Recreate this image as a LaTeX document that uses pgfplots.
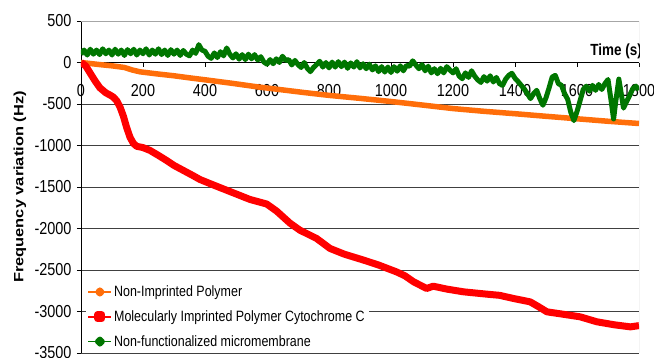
\documentclass[border=0pt]{standalone}
\usepackage{graphicx}
\usepackage{pgfplots}
\pgfplotsset{compat=1.18}
\usepackage{fontspec}
\setmainfont{Liberation Sans}
\definecolor{cOrange}{RGB}{255,110,10}
\definecolor{cRed}{RGB}{255,0,0}
\definecolor{cGreen}{RGB}{0,118,0}
\newcommand{\vs}[1]{\scalebox{1}[1.2]{#1}}
\pgfplotsset{
  legO/.style={legend image code/.code={\draw[##1, line width=1.5bp] (0bp,0bp) -- (23bp,0bp); \fill[##1] (11.5bp,0bp) circle (1.8bp);}},
  legR/.style={legend image code/.code={\draw[##1, line width=1.5bp] (0bp,0bp) -- (23bp,0bp); \fill[##1] (9.5bp,-2bp) rectangle (13.5bp,2bp);}},
  legG/.style={legend image code/.code={\draw[##1, line width=1.5bp] (0bp,0bp) -- (23bp,0bp); \fill[##1] (11.5bp,-2.5bp) -- (14bp,0bp) -- (11.5bp,2.5bp) -- (9bp,0bp) -- cycle;}},
}
\begin{document}
\begin{tikzpicture}
\useasboundingbox (-81bp,-5bp) rectangle (573bp,353bp);
\begin{axis}[
  at={(0,0)}, anchor=south west,
  scale only axis, width=558bp, height=332bp,
  xmin=0, xmax=1800, ymin=-3500, ymax=500,
  axis x line=middle, axis y line=left,
  axis line style={-, black, line width=0.6bp},
  hide obscured x ticks=false, hide obscured y ticks=false,
  xtick={0,200,...,1800}, ytick={-3500,-3000,...,500},
  tick align=outside, major tick length=4bp,
  tick style={black, line width=0.6bp},
  ymajorgrids, major grid style={black!75, line width=0.6bp},
  /pgf/number format/assume math mode=true,
  /pgf/number format/1000 sep={},
  xticklabel={\vs{\pgfmathprintnumber{\tick}}},
  yticklabel={\vs{\pgfmathprintnumber{\tick}}},
  ticklabel style={font=\fontsize{14.5}{16}\selectfont},
  xticklabel style={yshift=-14bp},
  yticklabel style={xshift=-2bp},
  every axis y label/.style={at={(axis description cs:0,0.5)}, xshift=-61bp, rotate=90, anchor=center, font=\bfseries\fontsize{13.5}{16}\selectfont},
  ylabel={\scalebox{1.22}[1]{Frequency variation (Hz)}},
  legend cell align=left,
  legend style={at={(axis description cs:0.008,0.215)}, anchor=north west, draw=none, fill=white,
    font=\fontsize{12.5}{15}\selectfont, row sep=8.5bp, inner sep=2bp},
]
\addplot[cOrange, line width=5.5bp, line join=round, legO]
coordinates {(0,0) (60,-25) (100,-40) (140,-60) (165,-90) (190,-112) (240,-135) (300,-160) (350,-185) (410,-213) (490,-252) (570,-294) (650,-330) (720,-362) (800,-396) (900,-432) (1000,-470) (1100,-512) (1200,-555) (1300,-588) (1400,-617) (1500,-648) (1600,-678) (1700,-708) (1800,-735)};
\addlegendentry{\vs{Non-Imprinted Polymer}}
\addplot[cRed, line width=7bp, line join=round, legR]
coordinates {(0,0) (15,-40) (30,-130) (45,-220) (61,-305) (80,-365) (95,-395) (104,-416) (115,-460) (126,-537) (137,-650) (147,-780) (158,-900) (169,-975) (180,-1010) (200,-1025) (223,-1060) (250,-1120) (276,-1180) (300,-1240) (330,-1300) (360,-1360) (384,-1410) (430,-1480) (491,-1570) (545,-1650) (599,-1705) (631,-1790) (674,-1935) (706,-2020) (760,-2120) (803,-2240) (850,-2310) (911,-2380) (960,-2440) (1018,-2523) (1045,-2570) (1072,-2640) (1115,-2723) (1136,-2695) (1180,-2730) (1234,-2763) (1309,-2791) (1350,-2805) (1395,-2843) (1449,-2884) (1475,-2940) (1503,-3004) (1550,-3030) (1610,-3064) (1664,-3124) (1720,-3160) (1772,-3185) (1800,-3170)};
\addlegendentry{\vs{Molecularly Imprinted Polymer Cytochrome C}}
\addplot[cGreen, line width=5bp, line join=round, legG]
coordinates {(0,100) (10,150) (20,90) (30,160) (40,100) (50,150) (60,95) (70,165) (80,105) (90,150) (100,90) (110,160) (120,100) (130,150) (140,85) (150,155) (160,105) (170,160) (180,90) (190,150) (200,105) (210,165) (220,90) (230,150) (240,100) (250,165) (260,95) (270,150) (280,85) (290,155) (300,100) (310,150) (320,85) (330,145) (340,100) (350,80) (360,150) (370,110) (380,215) (390,150) (400,135) (410,75) (420,50) (430,115) (440,60) (450,130) (460,80) (470,175) (480,100) (490,55) (500,105) (510,40) (520,95) (530,35) (540,100) (550,45) (560,95) (570,30) (580,70) (590,5) (600,-20) (610,35) (620,-15) (630,45) (640,0) (650,75) (660,25) (670,35) (680,-30) (690,25) (700,-25) (710,-60) (720,0) (730,-70) (740,-110) (750,-60) (760,-25) (770,15) (780,-55) (790,0) (800,-65) (810,5) (820,-55) (830,10) (840,-50) (850,5) (860,-70) (870,-5) (880,-55) (890,10) (900,-65) (910,-15) (920,-75) (930,-20) (940,-90) (950,-40) (960,-110) (970,-50) (980,-115) (990,-55) (1000,-120) (1010,-50) (1020,-105) (1030,-40) (1040,-100) (1050,-35) (1060,-45) (1070,20) (1080,-30) (1090,-75) (1100,-25) (1110,-100) (1120,-45) (1130,-125) (1140,-75) (1150,-135) (1160,-70) (1170,-125) (1180,-50) (1190,-90) (1200,-125) (1210,-75) (1220,-165) (1230,-195) (1240,-125) (1250,-180) (1260,-100) (1270,-165) (1280,-210) (1290,-240) (1300,-170) (1310,-225) (1320,-160) (1330,-235) (1340,-180) (1350,-255) (1360,-275) (1370,-200) (1380,-155) (1390,-130) (1400,-190) (1410,-230) (1420,-275) (1430,-320) (1440,-375) (1450,-435) (1460,-375) (1470,-335) (1480,-435) (1490,-515) (1500,-425) (1510,-305) (1520,-175) (1530,-155) (1540,-255) (1550,-275) (1560,-375) (1570,-445) (1580,-600) (1590,-700) (1600,-590) (1610,-460) (1620,-325) (1630,-285) (1640,-345) (1650,-275) (1660,-335) (1670,-265) (1680,-325) (1690,-255) (1700,-205) (1710,-460) (1718,-680) (1725,-470) (1735,-200) (1745,-430) (1750,-550) (1760,-470) (1770,-395) (1780,-315) (1790,-285) (1800,-330)};
\addlegendentry{\vs{Non-functionalized micromembrane}}
\draw[black!35, line width=0.8bp] (rel axis cs:0,1) -- (rel axis cs:1,1) -- (rel axis cs:1,0) -- (rel axis cs:0,0);
\node[anchor=south east, inner sep=0pt, font=\bfseries\fontsize{13.5}{16}\selectfont] at (axis cs:1800,0) [yshift=3bp, xshift=3bp] {\vs{Time (s)}};
\end{axis}
\end{tikzpicture}
\end{document}
